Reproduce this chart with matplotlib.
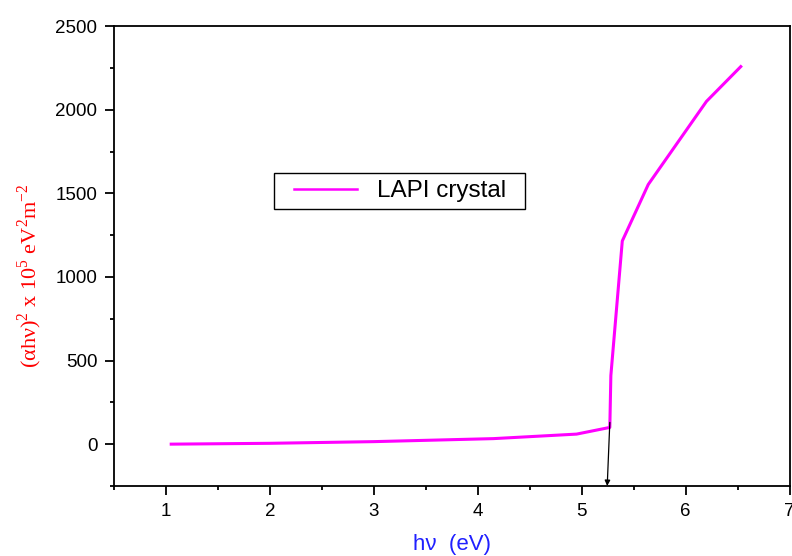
import numpy as np
import matplotlib
matplotlib.use("Agg")
import matplotlib.pyplot as plt
from matplotlib.patches import Rectangle
from matplotlib.ticker import MultipleLocator

# photon energy (eV) and (alpha h nu)^2 in units of 1e5 eV^2 m^-2
hv = [1.05, 2.0, 3.0, 4.15, 4.95, 5.27, 5.28, 5.39, 5.64, 6.20, 6.53]
ahv2 = [0, 5, 15, 33, 60, 100, 410, 1215, 1553, 2050, 2258]

# band gap extrapolation arrow
arrow_start = (5.27, 130)
arrow_end = (5.245, -250)

plt.rcParams['font.family'] = ['Liberation Sans', 'DejaVu Sans']
plt.rcParams['mathtext.fontset'] = 'custom'
plt.rcParams['mathtext.rm'] = 'Liberation Serif'

fig = plt.figure(figsize=(7.92, 5.56), dpi=100)
ax = fig.add_axes([0.144, 0.126, 0.853, 0.827])

ax.plot(hv, ahv2, color="#ff00ff", lw=2.2, label="LAPI crystal")
ax.annotate("", xy=arrow_end, xytext=arrow_start,
            arrowprops=dict(arrowstyle="-|>", color="black", lw=0.9,
                            mutation_scale=8, shrinkA=0, shrinkB=0),
            annotation_clip=False)

ax.set_xlim(0.5, 7.0)
ax.set_ylim(-250, 2500)
ax.xaxis.set_major_locator(MultipleLocator(1))
ax.xaxis.set_minor_locator(MultipleLocator(0.5))
ax.yaxis.set_major_locator(MultipleLocator(500))
ax.yaxis.set_minor_locator(MultipleLocator(250))
ax.tick_params(which="both", direction="out", width=1.3, labelsize=13.5,
               top=False, right=False)
ax.tick_params(which="major", length=6.5, pad=5.5)
ax.tick_params(which="minor", length=3)
for s in ax.spines.values():
    s.set_linewidth(1.3)

ax.set_xlabel("h\u03bd  (eV)", color="#2020ff", fontsize=16)
ax.xaxis.set_label_coords(0.5, -0.105)
ax.set_ylabel("(\u03b1h\u03bd)$^{\\mathrm{2}}$ x 10$^{\\mathrm{5}}$ eV$^{\\mathrm{2}}$m$^{\\mathrm{-2}}$",
              color="red", fontsize=16, family="Liberation Serif")
ax.yaxis.set_label_coords(-0.104, 0.458)

# legend entry without its own frame, boxed by a plain rectangle
leg = ax.legend(loc="center", bbox_to_anchor=(0.423, 0.641), fontsize=17.5,
                frameon=False, handlelength=2.6, borderpad=0, borderaxespad=0)
for h in leg.get_lines():
    h.set_linewidth(1.8)
ax.add_patch(Rectangle((0.2367, 0.602), 0.3713, 0.078, transform=ax.transAxes,
                       fill=False, edgecolor="black", lw=1.0, zorder=5))

fig.savefig("out.png", dpi=100)
